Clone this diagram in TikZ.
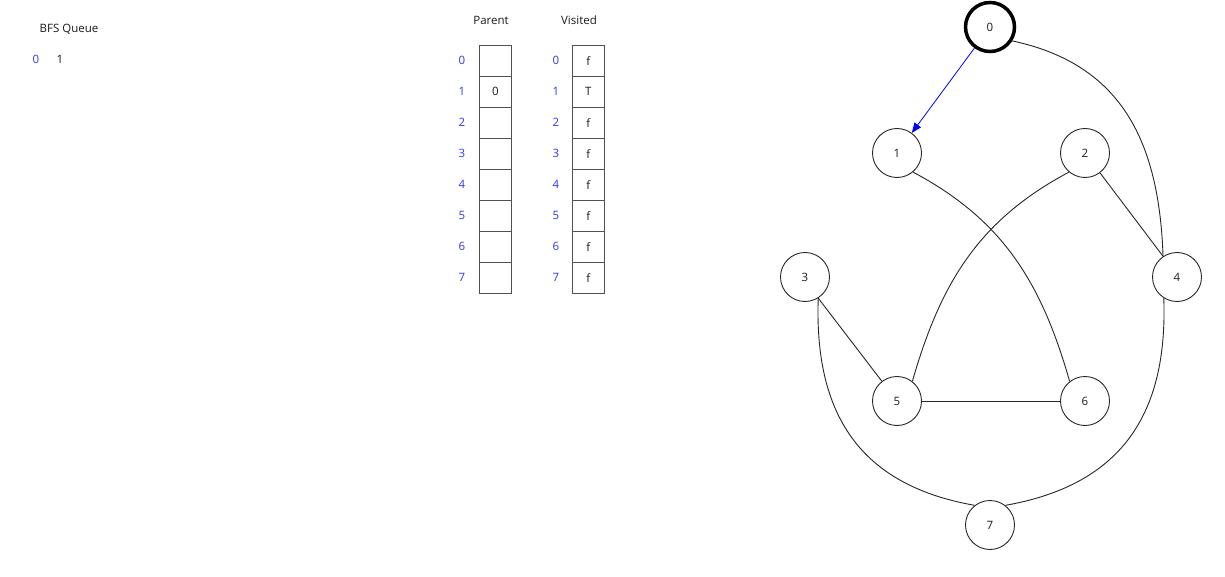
\documentclass[tikz,border=0pt]{standalone}
\usepackage{fontspec}
\setmainfont{Open Sans}
\usetikzlibrary{arrows.meta}
\definecolor{idxblue}{RGB}{50,50,255}
\definecolor{txtgray}{RGB}{25,25,25}
\definecolor{cellgray}{RGB}{80,80,80}
\begin{document}
\begin{tikzpicture}[x=1pt,y=1pt,
    every node/.style={font=\fontsize{11.5}{13}\selectfont,text=txtgray},
    vertex/.style={circle,draw=black!85,line width=0.9pt,minimum size=49pt,inner sep=0pt},
    cell/.style={draw=cellgray,line width=0.7pt,minimum width=32pt,minimum height=31pt,inner sep=0pt,anchor=north west},
    idx/.style={text=idxblue},
    edge/.style={line width=0.9pt,black!85}]

  \useasboundingbox (0,0) rectangle (1225,-577);

  % -------- BFS QUEUE --------
  \node (qtitle) at (69,-29) {BFS Queue};
  \node[idx] (q0) at (36,-59) {0};
  \node (q1) at (60,-59) {1};

  % -------- PARENT / VISITED --------
  \def\RowH{31}          % height of a row
  \node (ptitle) at (491,-20) {Parent};
  \node (vtitle) at (579,-20) {Visited};
  \foreach \i/\p/\v in {0//f,1/0/T,2//f,3//f,4//f,5//f,6//f,7//f} {
      \node[idx] (pidx\i) at (462,-60.5-\RowH*\i) {\i};
      \node[cell] (par\i) at (479,-45-\RowH*\i) {\p};
      \node[idx] (vidx\i) at (556,-60.5-\RowH*\i) {\i};
      \node[cell] (vis\i) at (572,-45-\RowH*\i) {\v};
  }

  % -------- GRAPH --------
  % current vertex
  \node[vertex,line width=3.5pt,draw=black] (n0) at (990,-27) {0};
  \foreach \n/\x/\y in {1/897/153,2/1085/153,3/805/277,4/1177/277,
                        5/897/401,6/1085/401,7/990/525} {
      \node[vertex] (n\n) at (\x,-\y) {\n};
  }

  % tree edge found so far
  \draw[blue,line width=0.8pt,-{Triangle[length=10pt,width=8pt]}] (n0) -- (n1);

  % remaining edges
  \draw[edge] (n0.-32) to[out=-12,in=92,looseness=1.1] (n4.124);
  \draw[edge] (n1.-50) to[out=-28,in=106] (n6.128);
  \draw[edge] (n2.-130) to[out=-152,in=74] (n5.52);
  \draw[edge] (n2) -- (n4.124);
  \draw[edge] (n3.-58) -- (n5);
  \draw[edge] (n5) -- (n6);
  \draw[edge] (n3.-58) to[out=-92,in=170,looseness=1.15] (n7.128);
  \draw[edge] (n4.-122) to[out=-88,in=10,looseness=1.15] (n7.52);

\end{tikzpicture}
\end{document}
